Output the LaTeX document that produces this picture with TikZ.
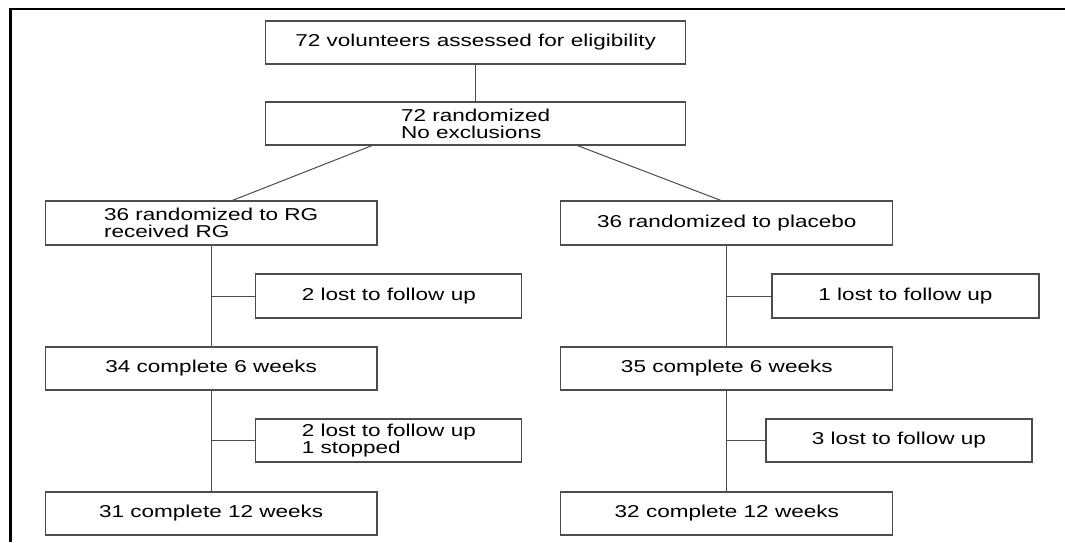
\documentclass[tikz,border=0pt]{standalone}
\usepackage{fontspec}
\setmainfont[FakeStretch=1.31]{Liberation Sans}
\begin{document}
\begin{tikzpicture}[x=1pt,y=-1pt,
  box/.style={draw=black!70, line width=1.1pt, text=black, minimum height=43pt,
    inner sep=0pt, align=left, font=\fontsize{17.2pt}{16.7pt}\selectfont},
  arm/.style={box, minimum width=266pt},
  link/.style={draw=black!70, line width=1pt}]
\useasboundingbox (0,0) rectangle (1065,542);
\draw[line width=2.5pt] (10.7,542) -- (10.7,9) -- (1065,9);

\node[box, minimum width=420pt] (1) at (475.6,42.5) {72 volunteers assessed for eligibility};
\node[box, minimum width=420pt] (2) at (475.6,123.5) {72 randomized\\No exclusions};

\node[box, minimum width=331.5pt, minimum height=44pt] (3) at (211.2,223) {36 randomized to RG\\received RG};
\node[box, minimum width=332pt, minimum height=44pt] (4) at (726.8,223) {36 randomized to placebo};

\node[arm, minimum height=44pt] (5) at (388.8,296) {2 lost to follow up};
\node[arm, minimum width=267pt, minimum height=44pt] (6) at (905.5,296) {1 lost to follow up};

\node[box, minimum width=331.5pt] (7) at (211.2,368.5) {34 complete 6 weeks};
\node[box, minimum width=332pt] (8) at (726.8,368.5) {35 complete 6 weeks};

\node[arm] (9) at (388.8,440.5) {2 lost to follow up\\1 stopped};
\node[arm] (10) at (899,440.5) {3 lost to follow up};

\node[box, minimum width=331.5pt] (11) at (211.2,513.5) {31 complete 12 weeks};
\node[box, minimum width=332pt] (12) at (726.8,513.5) {32 complete 12 weeks};

\path[link] (1) -- (2);
\path[link] ([xshift=-103.6pt]2.south) -- ([xshift=21.2pt]3.north);
\path[link] ([xshift=101.8pt]2.south) -- ([xshift=-5.9pt]4.north);

\path[link] (3) -- (7);
\path[link] (7) -- (11);
\path[link] (4) -- (8);
\path[link] (8) -- (12);

\path[link] (5.west) -- (5.west -| 3);
\path[link] (9.west) -- (9.west -| 7);
\path[link] (6.west) -- (6.west -| 4);
\path[link] (10.west) -- (10.west -| 8);

\end{tikzpicture}
\end{document}
